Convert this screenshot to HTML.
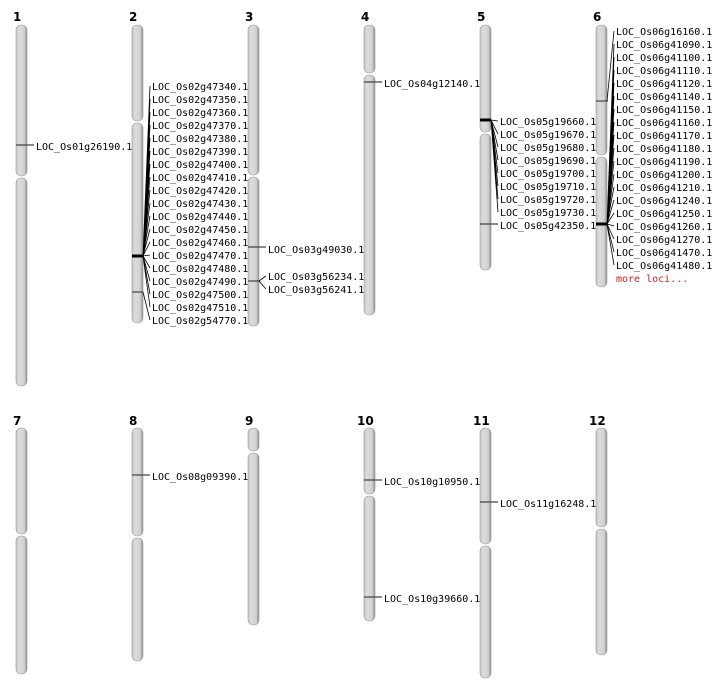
<!DOCTYPE html>
<html><head><meta charset="utf-8"><style>
body{margin:0;background:#fff}
svg{display:block}
text{font-family:"DejaVu Sans Mono","Liberation Mono",monospace;font-size:10px;fill:#000}
.n{font-family:"DejaVu Sans","Liberation Sans",sans-serif;font-weight:bold;font-size:12px}
line,path.l{stroke:#000;stroke-width:0.8;fill:none}
.m{stroke:#444;stroke-width:1.2}
.t{stroke:#000;stroke-width:3}
</style></head><body>
<svg width="712" height="700" viewBox="0 0 712 700">
<defs>
<linearGradient id="g" x1="0" x2="1" y1="0" y2="0">
<stop offset="0" stop-color="#c8c8c8"/><stop offset="0.3" stop-color="#dcdcdc"/><stop offset="0.75" stop-color="#d0d0d0"/><stop offset="1" stop-color="#8a8a8a"/>
</linearGradient>
</defs>
<g fill="url(#g)" stroke="#9a9a9a" stroke-width="0.6">
<rect x="16" y="25" width="11" height="151" rx="5"/><rect x="16" y="178" width="11" height="208" rx="5"/>
<rect x="132" y="25" width="11" height="96" rx="5"/><rect x="132" y="123" width="11" height="200" rx="5"/>
<rect x="248" y="25" width="11" height="150" rx="5"/><rect x="248" y="177" width="11" height="149" rx="5"/>
<rect x="364" y="25" width="11" height="48" rx="5"/><rect x="364" y="75" width="11" height="240" rx="5"/>
<rect x="480" y="25" width="11" height="107" rx="5"/><rect x="480" y="134" width="11" height="136" rx="5"/>
<rect x="596" y="25" width="11" height="130" rx="5"/><rect x="596" y="157" width="11" height="130" rx="5"/>
<rect x="16" y="428" width="11" height="106" rx="5"/><rect x="16" y="536" width="11" height="138" rx="5"/>
<rect x="132" y="428" width="11" height="108" rx="5"/><rect x="132" y="538" width="11" height="123" rx="5"/>
<rect x="248" y="428" width="11" height="23" rx="5"/><rect x="248" y="453" width="11" height="172" rx="5"/>
<rect x="364" y="428" width="11" height="66" rx="5"/><rect x="364" y="496" width="11" height="125" rx="5"/>
<rect x="480" y="428" width="11" height="116" rx="5"/><rect x="480" y="546" width="11" height="132" rx="5"/>
<rect x="596" y="428" width="11" height="99" rx="5"/><rect x="596" y="529" width="11" height="126" rx="5"/>
</g>
<g class="n">
<text class="n" x="13" y="21">1</text><text class="n" x="129" y="21">2</text><text class="n" x="245" y="21">3</text><text class="n" x="361" y="21">4</text><text class="n" x="477" y="21">5</text><text class="n" x="593" y="21">6</text>
<text class="n" x="13" y="425">7</text><text class="n" x="129" y="425">8</text><text class="n" x="245" y="425">9</text><text class="n" x="357" y="425">10</text><text class="n" x="473" y="425">11</text><text class="n" x="589" y="425">12</text>
</g>
<!-- markers -->
<line class="m" x1="16" y1="145" x2="34" y2="145"/>
<line class="t" x1="132" y1="256" x2="143" y2="256"/>
<line class="m" x1="132" y1="292" x2="143" y2="292"/>
<line class="m" x1="248" y1="247" x2="266" y2="247"/>
<line class="m" x1="248" y1="281" x2="260" y2="281"/>
<line class="m" x1="364" y1="82" x2="382" y2="82"/>
<line class="t" x1="480" y1="120" x2="491" y2="120"/>
<line class="m" x1="480" y1="224" x2="498" y2="224"/>
<line class="m" x1="596" y1="101" x2="608" y2="101"/>
<line class="t" x1="596" y1="224" x2="607" y2="224"/>
<line class="m" x1="132" y1="475" x2="150" y2="475"/>
<line class="m" x1="364" y1="480" x2="382" y2="480"/>
<line class="m" x1="364" y1="597" x2="382" y2="597"/>
<line class="m" x1="480" y1="502" x2="498" y2="502"/>
<!-- fans -->
<g>
<path class="l" d="M143 256L150 86M143 256L150 99M143 256L150 112M143 256L150 125M143 256L150 138M143 256L150 151M143 256L150 164M143 256L150 177M143 256L150 190M143 256L150 203M143 256L150 216M143 256L150 229M143 256L150 242M143 256L150 255M143 256L150 268M143 256L150 281M143 256L150 294M143 256L150 307M143 292L150 320"/>
<path class="l" d="M259 281L266 276M259 281L266 289"/>
<path class="l" d="M491 120L498 121M491 120L498 134M491 120L498 147M491 120L498 160M491 120L498 173M491 120L498 186M491 120L498 199M491 120L498 212"/>
<path class="l" d="M607 101L614 31M607 224L614 44M607 224L614 57M607 224L614 70M607 224L614 83M607 224L614 96M607 224L614 109M607 224L614 122M607 224L614 135M607 224L614 148M607 224L614 161M607 224L614 174M607 224L614 187M607 224L614 200M607 224L614 213M607 224L614 226M607 224L614 239M607 224L614 252M607 224L614 265"/>
</g>
<text x="36" y="150">LOC_Os01g26190.1</text>
<g>
<text x="152" y="90">LOC_Os02g47340.1</text><text x="152" y="103">LOC_Os02g47350.1</text><text x="152" y="116">LOC_Os02g47360.1</text><text x="152" y="129">LOC_Os02g47370.1</text><text x="152" y="142">LOC_Os02g47380.1</text><text x="152" y="155">LOC_Os02g47390.1</text><text x="152" y="168">LOC_Os02g47400.1</text><text x="152" y="181">LOC_Os02g47410.1</text><text x="152" y="194">LOC_Os02g47420.1</text><text x="152" y="207">LOC_Os02g47430.1</text><text x="152" y="220">LOC_Os02g47440.1</text><text x="152" y="233">LOC_Os02g47450.1</text><text x="152" y="246">LOC_Os02g47460.1</text><text x="152" y="259">LOC_Os02g47470.1</text><text x="152" y="272">LOC_Os02g47480.1</text><text x="152" y="285">LOC_Os02g47490.1</text><text x="152" y="298">LOC_Os02g47500.1</text><text x="152" y="311">LOC_Os02g47510.1</text><text x="152" y="324">LOC_Os02g54770.1</text>
</g>
<text x="268" y="253">LOC_Os03g49030.1</text><text x="268" y="280">LOC_Os03g56234.1</text><text x="268" y="293">LOC_Os03g56241.1</text>
<text x="384" y="87">LOC_Os04g12140.1</text>
<g>
<text x="500" y="125">LOC_Os05g19660.1</text><text x="500" y="138">LOC_Os05g19670.1</text><text x="500" y="151">LOC_Os05g19680.1</text><text x="500" y="164">LOC_Os05g19690.1</text><text x="500" y="177">LOC_Os05g19700.1</text><text x="500" y="190">LOC_Os05g19710.1</text><text x="500" y="203">LOC_Os05g19720.1</text><text x="500" y="216">LOC_Os05g19730.1</text><text x="500" y="229">LOC_Os05g42350.1</text>
</g>
<g>
<text x="616" y="35">LOC_Os06g16160.1</text><text x="616" y="48">LOC_Os06g41090.1</text><text x="616" y="61">LOC_Os06g41100.1</text><text x="616" y="74">LOC_Os06g41110.1</text><text x="616" y="87">LOC_Os06g41120.1</text><text x="616" y="100">LOC_Os06g41140.1</text><text x="616" y="113">LOC_Os06g41150.1</text><text x="616" y="126">LOC_Os06g41160.1</text><text x="616" y="139">LOC_Os06g41170.1</text><text x="616" y="152">LOC_Os06g41180.1</text><text x="616" y="165">LOC_Os06g41190.1</text><text x="616" y="178">LOC_Os06g41200.1</text><text x="616" y="191">LOC_Os06g41210.1</text><text x="616" y="204">LOC_Os06g41240.1</text><text x="616" y="217">LOC_Os06g41250.1</text><text x="616" y="230">LOC_Os06g41260.1</text><text x="616" y="243">LOC_Os06g41270.1</text><text x="616" y="256">LOC_Os06g41470.1</text><text x="616" y="269">LOC_Os06g41480.1</text><text x="616" y="282" style="fill:#d02020">more loci...</text>
</g>
<text x="152" y="480">LOC_Os08g09390.1</text>
<text x="384" y="485">LOC_Os10g10950.1</text>
<text x="384" y="602">LOC_Os10g39660.1</text>
<text x="500" y="507">LOC_Os11g16248.1</text>
</svg>
</body></html>
